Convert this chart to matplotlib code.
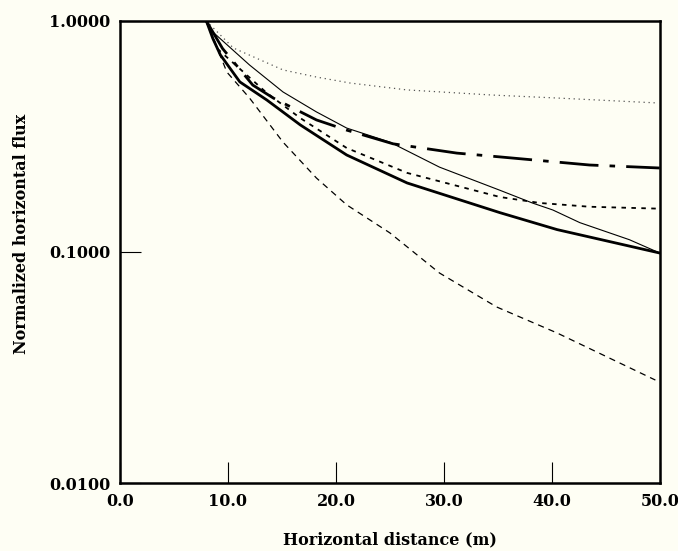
import matplotlib
matplotlib.use('Agg')
import matplotlib.pyplot as plt
from matplotlib.ticker import FixedLocator, FixedFormatter, NullLocator

# x positions (m) and normalized flux
x_dot = [8.0, 10.5, 15.1, 18.2, 21.3, 26.6, 34.5, 40.5, 49.7]
y_dot = [1.0, 0.764, 0.614, 0.572, 0.539, 0.503, 0.478, 0.464, 0.442]

x_thick = [8.0, 8.6, 9.3, 11.1, 13.6, 16.7, 21.0, 26.6, 35.2, 40.5, 50.0]
y_thick = [1.0, 0.84, 0.713, 0.545, 0.455, 0.355, 0.263, 0.199, 0.148, 0.125, 0.099]

x_thin = [8.0, 8.6, 12.0, 15.1, 18.2, 21.0, 25.0, 29.6, 35.2, 38.2, 40.1, 42.6, 47.2, 50.0]
y_thin = [1.0, 0.896, 0.645, 0.493, 0.404, 0.344, 0.299, 0.233, 0.185, 0.163, 0.152, 0.134, 0.113, 0.099]

x_dashdot = [8.0, 9.5, 12.3, 14.2, 18.2, 21.0, 25.3, 31.2, 35.2, 43.5, 50.0]
y_dashdot = [1.0, 0.76, 0.528, 0.464, 0.373, 0.337, 0.294, 0.268, 0.258, 0.238, 0.231]

x_short = [8.0, 9.0, 13.6, 16.7, 21.0, 26.6, 35.2, 38.9, 43.5, 50.0]
y_short = [1.0, 0.76, 0.488, 0.380, 0.282, 0.220, 0.173, 0.163, 0.157, 0.154]

x_long = [8.0, 9.9, 12.0, 15.1, 18.2, 21.0, 25.0, 29.6, 34.9, 40.5, 49.6]
y_long = [1.0, 0.601, 0.464, 0.299, 0.209, 0.160, 0.121, 0.0811, 0.0578, 0.0446, 0.0279]

x_ticks = [0, 10, 20, 30, 40, 50]
x_labels = ['0.0', '10.0', '20.0', '30.0', '40.0', '50.0']
y_ticks = [0.01, 0.1, 1.0]
y_labels = ['0.0100', '0.1000', '1.0000']

bg = '#fefef4'
plt.rcParams['font.family'] = 'DejaVu Serif'
plt.rcParams['font.weight'] = 'bold'

fig = plt.figure(figsize=(6.78, 5.51), dpi=100, facecolor=bg)
ax = fig.add_axes([0.177, 0.1234, 0.796, 0.8385], facecolor=bg)

ax.plot(x_dot, y_dot, color='#555555', lw=0.9, linestyle=(0, (1, 3)))
ax.plot(x_thin, y_thin, color='black', lw=0.8)
ax.plot(x_dashdot, y_dashdot, color='black', lw=2.0, linestyle=(0, (14, 4, 2, 4)))
ax.plot(x_short, y_short, color='black', lw=1.3, linestyle=(0, (2.5, 3)))
ax.plot(x_thick, y_thick, color='black', lw=2.0)
ax.plot(x_long, y_long, color='black', lw=0.9, linestyle=(0, (5, 4)))

ax.set_yscale('log')
ax.set_xlim(0, 50)
ax.set_ylim(0.01, 1.0)
ax.xaxis.set_major_locator(FixedLocator(x_ticks))
ax.xaxis.set_major_formatter(FixedFormatter(x_labels))
ax.yaxis.set_major_locator(FixedLocator(y_ticks))
ax.yaxis.set_major_formatter(FixedFormatter(y_labels))
ax.yaxis.set_minor_locator(NullLocator())
ax.tick_params(direction='in', length=15, width=0.8, labelsize=11.5)
ax.tick_params(axis='x', pad=7)
ax.tick_params(axis='y', pad=7)
for s in ax.spines.values():
    s.set_linewidth(1.8)

ax.set_xlabel('Horizontal distance (m)', fontsize=11.5, fontweight='bold')
ax.set_ylabel('Normalized horizontal flux', fontsize=11.5, fontweight='bold')
ax.xaxis.set_label_coords(0.5, -0.105)
ax.yaxis.set_label_coords(-0.167, 0.54)

plt.savefig('out.png', dpi=100, facecolor=bg)
plt.close(fig)
